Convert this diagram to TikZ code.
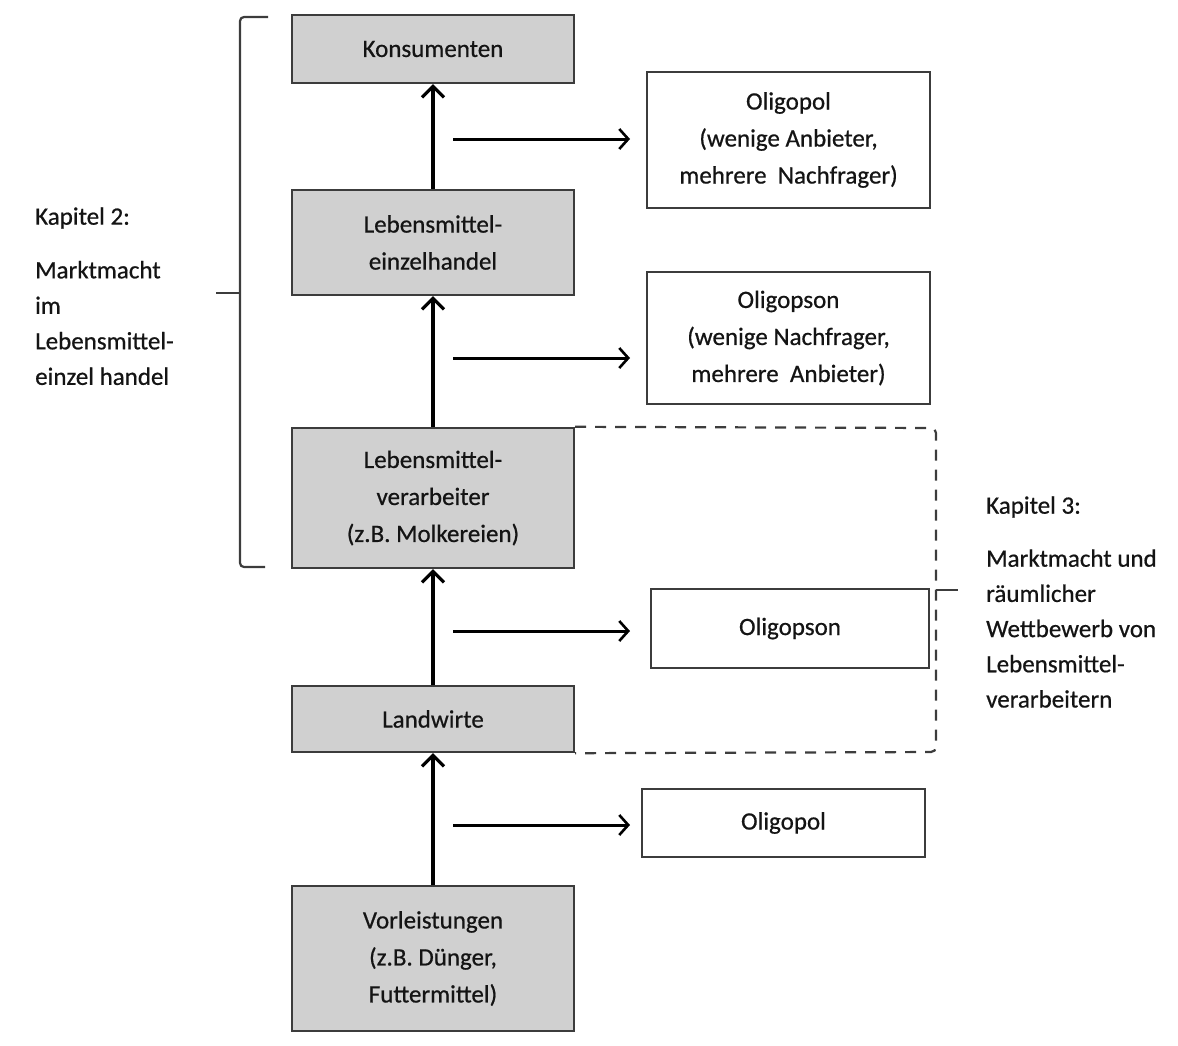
\documentclass[tikz,border=0pt]{standalone}
\usepackage{fontspec}
\setmainfont{Carlito}[UprightFeatures={FakeBold=0.6}]
\usetikzlibrary{arrows.meta}
\definecolor{boxgray}{RGB}{208,208,208}
\definecolor{ink}{RGB}{20,20,20}
\definecolor{framegray}{RGB}{60,60,60}
\begin{document}
\begin{tikzpicture}[x=1pt,y=-1pt,
  every node/.style={font=\fontsize{25}{37}\selectfont, text=ink, inner sep=0pt},
  stage/.style={draw=framegray, line width=2.4pt, fill=boxgray, minimum width=282pt, align=center},
  market/.style={draw=framegray, line width=2pt, fill=white, align=center},
  flow/.style={line width=4pt, -{Straight Barb[length=11pt, width=22pt, line width=3.2pt]}},
  link/.style={line width=3pt, -{Straight Barb[length=9pt, width=20pt, line width=2.6pt]}},
  bracket/.style={draw=framegray, line width=2.2pt},
  note/.style={anchor=west, align=left}
]
\useasboundingbox (0,0) rectangle (1178,1045);

% value chain, bottom to top
\node[stage, minimum height=68pt]  (kons) at (433,49)    {Konsumenten};
\node[stage, minimum height=105pt] (einz) at (433,242.5) {Lebensmittel-\\einzelhandel};
\node[stage, minimum height=140pt] (vera) at (433,498)   {Lebensmittel-\\verarbeiter\\(z.B. Molkereien)};
\node[stage, minimum height=66pt]  (land) at (433,719)   {Landwirte};
\node[stage, minimum height=145pt] (vorl) at (433,958.5) {Vorleistungen\\(z.B. Dünger,\\Futtermittel)};

% market forms between the stages
\node[market, minimum width=283pt, minimum height=136pt] (olig1) at (788.5,140) {Oligopol\\(wenige Anbieter,\\mehrere~~Nachfrager)};
\node[market, minimum width=283pt, minimum height=132pt] (olis1) at (788.5,338) {Oligopson\\(wenige Nachfrager,\\mehrere~~Anbieter)};
\node[market, minimum width=278pt, minimum height=79pt]  (olis2) at (790,628.5)  {Oligopson};
\node[market, minimum width=283pt, minimum height=68pt]  (olig2) at (783.5,823)  {Oligopol};

% upward flow
\draw[flow] (einz.north) -- (kons.south);
\draw[flow] (vera.north) -- (einz.south);
\draw[flow] (land.north) -- (vera.south);
\draw[flow] (vorl.north) -- (land.south);

% pointers to the market forms
\coordinate (p1s) at (453,139); \coordinate (p1e) at (630,139);
\coordinate (p2s) at (453,358); \coordinate (p2e) at (630,358);
\coordinate (p3s) at (453,631); \coordinate (p3e) at (630,631);
\coordinate (p4s) at (453,825); \coordinate (p4e) at (630,825);
\draw[link] (p1s) -- (p1e);
\draw[link] (p2s) -- (p2e);
\draw[link] (p3s) -- (p3e);
\draw[link] (p4s) -- (p4e);

% chapter 2 bracket
\coordinate (b2top) at (268,17);
\coordinate (b2bot) at (265,567);
\coordinate (b2tip) at (216,293);
\draw[bracket, rounded corners=4pt] (b2top) -- (240,17) -- (240,567) -- (b2bot);
\draw[bracket] (240,293) -- (b2tip);

% chapter 3 dashed frame
\coordinate (d3tip) at (958,590);
\draw[bracket, dashed, dash pattern=on 11pt off 9pt, rounded corners=5pt]
  (vera.north east) -- (936,428) -- (936,752) -- (land.south east);
\draw[bracket] (936,590) -- (d3tip);

% chapter labels
\node[note] (k2) at (35,218) {Kapitel 2:};
\node[note, font=\fontsize{25}{35.5}\selectfont] (k2t) at (35,323) {Marktmacht\\im\\Lebensmittel-\\einzel handel};
\node[note] (k3) at (986,507) {Kapitel 3:};
\node[note, font=\fontsize{25}{35.2}\selectfont] (k3t) at (986,628.5) {Marktmacht und\\räumlicher\\Wettbewerb von\\Lebensmittel-\\verarbeitern};
\end{tikzpicture}
\end{document}
